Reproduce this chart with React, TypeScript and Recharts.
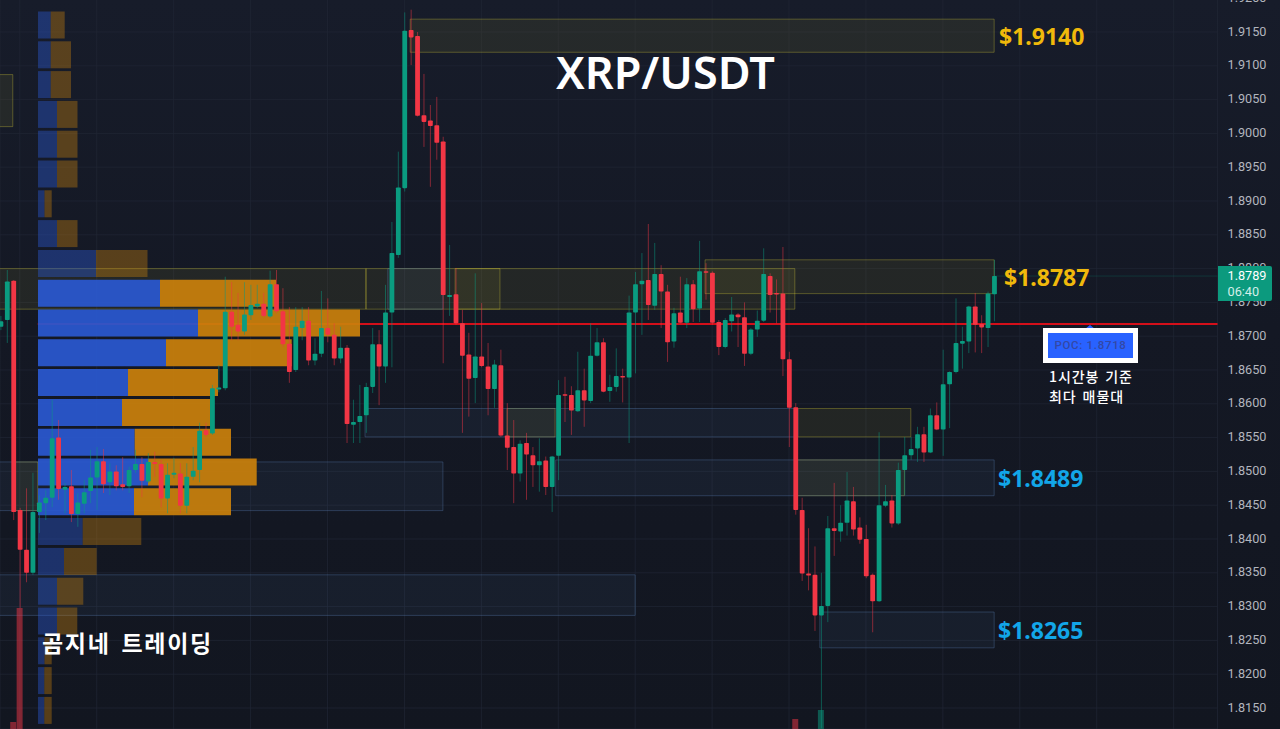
import React from "react";
import { Bar, BarChart, CartesianGrid, Cell, ComposedChart, ReferenceArea, ReferenceLine, XAxis, YAxis } from "recharts";

const opens = [1.8714,1.8724,1.8782,1.8443,1.8384,1.8350,1.8440,1.8453,1.8461,1.8550,
1.8473,1.8478,1.8437,1.8452,1.8471,1.8491,1.8515,1.8484,1.8500,1.8481,
1.8478,1.8502,1.8511,1.8485,1.8514,1.8511,1.8460,1.8495,1.8497,1.8449,
1.8492,1.8502,1.8561,1.8556,1.8621,1.8623,1.8736,1.8717,1.8707,1.8731,
1.8744,1.8748,1.8729,1.8777,1.8737,1.8689,1.8650,1.8712,1.8723,1.8664,
1.8674,1.8712,1.8702,1.8667,1.8683,1.8569,1.8573,1.8583,1.8625,1.8688,
1.8655,1.8735,1.8820,1.8919,1.9153,1.9144,1.9027,1.9019,1.9012,1.8988,
1.8758,1.8762,1.8719,1.8673,1.8638,1.8670,1.8655,1.8622,1.8657,1.8553,
1.8536,1.8497,1.8542,1.8524,1.8509,1.8516,1.8477,1.8523,1.8614,1.8613,
1.8589,1.8620,1.8604,1.8671,1.8691,1.8619,1.8625,1.8641,1.8639,1.8735,
1.8777,1.8783,1.8745,1.8792,1.8766,1.8692,1.8735,1.8720,1.8777,1.8741,
1.8796,1.8794,1.8721,1.8684,1.8722,1.8732,1.8728,1.8674,1.8710,1.8723,
1.8789,1.8764,1.8763,1.8666,1.8595,1.8443,1.8349,1.8347,1.8287,1.8301,
1.8416,1.8411,1.8424,1.8456,1.8417,1.8400,1.8347,1.8308,1.8449,1.8457,
1.8423,1.8502,1.8524,1.8534,1.8555,1.8528,1.8583,1.8562,1.8629,1.8647,
1.8689,1.8692,1.8744,1.8718,1.8712,1.8762];

const closes = [1.8722,1.8781,1.8440,1.8384,1.8350,1.8440,1.8454,1.8461,1.8549,1.8474,
1.8477,1.8437,1.8454,1.8469,1.8491,1.8515,1.8481,1.8500,1.8478,1.8477,
1.8502,1.8511,1.8486,1.8514,1.8511,1.8460,1.8495,1.8498,1.8449,1.8492,
1.8501,1.8560,1.8554,1.8623,1.8624,1.8736,1.8714,1.8707,1.8732,1.8746,
1.8748,1.8730,1.8777,1.8737,1.8688,1.8647,1.8714,1.8723,1.8664,1.8674,
1.8712,1.8702,1.8667,1.8683,1.8570,1.8573,1.8582,1.8625,1.8688,1.8655,
1.8735,1.8823,1.8920,1.9152,1.9142,1.9026,1.9017,1.9011,1.8986,1.8761,
1.8761,1.8719,1.8671,1.8637,1.8670,1.8656,1.8622,1.8658,1.8553,1.8535,
1.8497,1.8541,1.8525,1.8509,1.8515,1.8477,1.8522,1.8613,1.8612,1.8590,
1.8620,1.8605,1.8671,1.8691,1.8618,1.8625,1.8641,1.8639,1.8735,1.8777,
1.8782,1.8746,1.8792,1.8766,1.8691,1.8734,1.8720,1.8777,1.8740,1.8796,
1.8794,1.8720,1.8684,1.8724,1.8732,1.8728,1.8674,1.8710,1.8723,1.8792,
1.8761,1.8762,1.8666,1.8594,1.8443,1.8349,1.8346,1.8287,1.8301,1.8416,
1.8412,1.8424,1.8457,1.8414,1.8399,1.8345,1.8308,1.8450,1.8456,1.8423,
1.8502,1.8524,1.8533,1.8555,1.8528,1.8583,1.8562,1.8629,1.8647,1.8690,
1.8693,1.8744,1.8717,1.8713,1.8763,1.8789];

const highs = [1.8730,1.8798,1.8783,1.8446,1.8475,1.8498,1.8465,1.8472,1.8606,1.8576,
1.8483,1.8502,1.8468,1.8487,1.8532,1.8536,1.8533,1.8512,1.8509,1.8521,
1.8507,1.8532,1.8521,1.8527,1.8529,1.8517,1.8512,1.8520,1.8512,1.8512,
1.8536,1.8572,1.8572,1.8628,1.8657,1.8788,1.8780,1.8764,1.8780,1.8776,
1.8776,1.8764,1.8797,1.8798,1.8771,1.8743,1.8743,1.8743,1.8743,1.8697,
1.8767,1.8756,1.8719,1.8714,1.8687,1.8606,1.8628,1.8631,1.8712,1.8709,
1.8776,1.8869,1.8973,1.9179,1.9183,1.9150,1.9088,1.9042,1.9054,1.8995,
1.8835,1.8801,1.8739,1.8705,1.8793,1.8749,1.8690,1.8665,1.8680,1.8601,
1.8576,1.8546,1.8557,1.8536,1.8549,1.8522,1.8523,1.8635,1.8640,1.8626,
1.8677,1.8652,1.8719,1.8712,1.8697,1.8643,1.8682,1.8652,1.8760,1.8795,
1.8823,1.8866,1.8838,1.8805,1.8776,1.8742,1.8788,1.8786,1.8783,1.8841,
1.8808,1.8796,1.8724,1.8727,1.8758,1.8734,1.8750,1.8712,1.8738,1.8830,
1.8793,1.8784,1.8832,1.8677,1.8601,1.8461,1.8416,1.8389,1.8350,1.8434,
1.8483,1.8450,1.8499,1.8477,1.8432,1.8421,1.8349,1.8558,1.8480,1.8465,
1.8513,1.8551,1.8551,1.8566,1.8566,1.8593,1.8602,1.8680,1.8648,1.8756,
1.8714,1.8745,1.8764,1.8731,1.8766,1.8813];

const lows = [1.8709,1.8690,1.8428,1.8298,1.8336,1.8347,1.8409,1.8428,1.8447,1.8458,
1.8438,1.8425,1.8418,1.8438,1.8453,1.8443,1.8468,1.8465,1.8472,1.8472,
1.8468,1.8498,1.8462,1.8483,1.8492,1.8447,1.8438,1.8490,1.8438,1.8438,
1.8487,1.8484,1.8551,1.8554,1.8617,1.8620,1.8694,1.8694,1.8702,1.8724,
1.8742,1.8727,1.8727,1.8734,1.8684,1.8631,1.8647,1.8694,1.8657,1.8657,
1.8669,1.8691,1.8657,1.8660,1.8542,1.8542,1.8542,1.8557,1.8616,1.8598,
1.8631,1.8654,1.8816,1.8914,1.9101,1.9025,1.8980,1.8921,1.8961,1.8660,
1.8730,1.8717,1.8557,1.8581,1.8601,1.8654,1.8583,1.8594,1.8551,1.8502,
1.8453,1.8485,1.8458,1.8477,1.8470,1.8465,1.8440,1.8487,1.8573,1.8554,
1.8588,1.8566,1.8601,1.8670,1.8617,1.8603,1.8618,1.8602,1.8542,1.8645,
1.8702,1.8724,1.8739,1.8712,1.8662,1.8683,1.8719,1.8712,1.8721,1.8721,
1.8754,1.8717,1.8672,1.8682,1.8707,1.8684,1.8656,1.8672,1.8699,1.8721,
1.8735,1.8719,1.8641,1.8536,1.8436,1.8338,1.8324,1.8264,1.8120,1.8277,
1.8375,1.8396,1.8405,1.8405,1.8393,1.8342,1.8262,1.8307,1.8447,1.8417,
1.8421,1.8465,1.8517,1.8514,1.8514,1.8527,1.8561,1.8523,1.8564,1.8645,
1.8652,1.8675,1.8676,1.8675,1.8684,1.8722];

// sparse volume histogram visible at the bottom edge (candle index -> volume)
const volumeIndexes = [2, 3, 124, 128];
const volumeValues = [7, 121, 10, 19];

const priceTicks = [1.92,1.915,1.91,1.905,1.9,1.895,1.89,1.885,1.88,1.875,1.87,1.865,1.86,1.855,1.85,1.845,1.84,1.835,1.83,1.825,1.82,1.815];
const timeTicks = [3,15,27,39,51,63,75,87,99,111,123,135,147,159,171,183];

// volume profile rows, top to bottom
const profileLevels = [1.9160,1.9116,1.9072,1.9028,1.8984,1.8940,1.8896,1.8852,1.8808,1.8764,1.8720,1.8675,1.8631,1.8587,1.8543,1.8499,1.8455,1.8411,1.8367,1.8323,1.8279,1.8234,1.8190,1.8146];
const profileBuy = [12.7,12.7,12.7,19,19,19,6.5,19,58,122,160,128,90,84,96.7,110,96,44.7,26,19,19,6.5,6.3,6.3];
const profileSell = [14,20.3,20.3,20.5,20.5,20.5,7.2,20.5,51.5,116,162,125.7,90,90,96.3,108.7,97,58.6,32.7,26.3,20.3,7.2,7.4,7.4];
const valueAreaFrom = 9;
const valueAreaTo = 16;

type Zone = { a: number; b: number; top: number; bottom: number };
const yellowZones: Zone[] = [
  { a: 63.9, b: 155, top: 1.9169, bottom: 1.9120 },
  { a: -2, b: 57, top: 1.88, bottom: 1.874 },
  { a: 57, b: 77.9, top: 1.88, bottom: 1.874 },
  { a: 70.9, b: 123.9, top: 1.88, bottom: 1.874 },
  { a: 109.9, b: 155, top: 1.8813, bottom: 1.8763 },
  { a: -2, b: 1.9, top: 1.9087, bottom: 1.901 },
  { a: 79, b: 86.5, top: 1.8593, bottom: 1.8551 },
  { a: 124.2, b: 142, top: 1.8593, bottom: 1.8551 },
  { a: 124.2, b: 141, top: 1.8517, bottom: 1.8464 },
  { a: 2.1, b: 5.8, top: 1.8514, bottom: 1.8442 },
];
const blueZones: Zone[] = [
  { a: 60.4, b: 69, top: 1.88, bottom: 1.874 },
  { a: 56.85, b: 124.4, top: 1.8593, bottom: 1.8551 },
  { a: 86.6, b: 155, top: 1.8517, bottom: 1.8464 },
  { a: -2, b: 69, top: 1.8514, bottom: 1.8442 },
  { a: -2, b: 99, top: 1.8347, bottom: 1.8287 },
  { a: 127.8, b: 155, top: 1.8292, bottom: 1.8239 },
];

const pocPrice = 1.8718;
const lastPrice = 1.8789;

const candles = opens.map((open, i) => ({
  i,
  open,
  close: closes[i],
  high: highs[i],
  low: lows[i],
  range: [lows[i], highs[i]],
  volume: volumeIndexes.includes(i) ? volumeValues[volumeIndexes.indexOf(i)] : 0,
}));
const profile = profileLevels.map((level, i) => ({ level, buy: profileBuy[i], sell: profileSell[i] }));

const W = 1280;
const H = 739;
const AXIS_W = 62.5;
const xDomain: [number, number] = [-0.0936, 189.84];
const yDomain: [number, number] = [1.811893, 1.921213];
const UP = "#0a9c80";
const DOWN = "#f23645";
const YELLOW = "#ffeb3b";
const BLUE = "#5f86bd";

function Candle(props: any) {
  const { x, y, width, height, payload } = props;
  const cx = x + width / 2;
  const top = Math.min(y, y + height);
  const k = Math.abs(height) / (payload.high - payload.low);
  const yOf = (p: number) => top + (payload.high - p) * k;
  const up = payload.close >= payload.open;
  const color = up ? UP : DOWN;
  const bodyTop = yOf(Math.max(payload.open, payload.close));
  const bodyH = Math.max(1.5, Math.abs(payload.close - payload.open) * k);
  return (
    <g>
      <line x1={cx} x2={cx} y1={top} y2={top + Math.abs(height)} stroke={color} strokeOpacity={0.5} strokeWidth={1} />
      <rect x={cx - 2.4} y={bodyTop} width={4.8} height={bodyH} rx={0.8} fill={color} />
    </g>
  );
}

const label = (left: number, centerY: number, text: string, color: string, size: number, extra: React.CSSProperties = {}) => (
  <div
    style={{
      position: "absolute",
      left,
      top: centerY - size,
      height: size * 2,
      lineHeight: `${size * 2}px`,
      color,
      fontSize: size,
      fontFamily: "'Noto Sans', 'Noto Sans CJK KR', sans-serif",
      fontWeight: 700,
      whiteSpace: "nowrap",
      ...extra,
    }}
  >
    {text}
  </div>
);

const layer: React.CSSProperties = { position: "absolute", left: 0, top: -10 };

export default function App() {
  return (
    <div
      style={{
        position: "fixed",
        left: 0,
        top: 0,
        width: 1280,
        height: 729,
        overflow: "hidden",
        background: "linear-gradient(180deg, #171c2a 0%, #141824 45%, #121620 100%)",
      }}
    >
      {/* grid, zones and the point-of-control line lie under the volume profile */}
      <div style={layer}>
        <ComposedChart width={W} height={H} data={candles} margin={{ top: 0, right: AXIS_W, bottom: 0, left: 0 }}>
          <CartesianGrid stroke="#202634" strokeOpacity={0.75} strokeWidth={1} />
          <XAxis dataKey="i" type="number" domain={xDomain} ticks={timeTicks} hide allowDataOverflow />
          <YAxis type="number" domain={yDomain} ticks={priceTicks} hide allowDataOverflow />
          {yellowZones.map((z, k) => (
            <ReferenceArea key={`y${k}`} x1={z.a} x2={z.b} y1={z.top} y2={z.bottom} fill={YELLOW} fillOpacity={0.065} stroke={YELLOW} strokeOpacity={0.27} strokeWidth={1} ifOverflow="visible" />
          ))}
          {blueZones.map((z, k) => (
            <ReferenceArea key={`b${k}`} x1={z.a} x2={z.b} y1={z.top} y2={z.bottom} fill={BLUE} fillOpacity={0.075} stroke={BLUE} strokeOpacity={0.33} strokeWidth={1} ifOverflow="visible" />
          ))}
          <ReferenceLine segment={[{ x: 5.8, y: pocPrice }, { x: 189.84, y: pocPrice }]} stroke="#d40f1a" strokeWidth={2} ifOverflow="visible" />
          <ReferenceLine segment={[{ x: 155, y: lastPrice }, { x: 189.84, y: lastPrice }]} stroke={UP} strokeOpacity={0.22} strokeWidth={1} ifOverflow="visible" />
        </ComposedChart>
      </div>

      {/* volume profile */}
      <div style={{ position: "absolute", left: 0, top: 0 }}>
        <BarChart width={W} height={729} data={profile} layout="vertical" barSize={27} margin={{ top: 10.5, right: 920, bottom: 3.3, left: 38 }}>
          <XAxis type="number" domain={[0, 322]} hide allowDataOverflow />
          <YAxis type="category" dataKey="level" hide />
          <Bar dataKey="buy" stackId="p" isAnimationActive={false}>
            {profile.map((_, i) => (
              <Cell key={i} fill="#2a58d0" fillOpacity={i >= valueAreaFrom && i <= valueAreaTo ? 0.93 : 0.42} />
            ))}
          </Bar>
          <Bar dataKey="sell" stackId="p" isAnimationActive={false}>
            {profile.map((_, i) => (
              <Cell key={i} fill="#c9800c" fillOpacity={i >= valueAreaFrom && i <= valueAreaTo ? 0.93 : 0.38} />
            ))}
          </Bar>
        </BarChart>
      </div>

      {/* candles, volume histogram and the price axis */}
      <div style={layer}>
        <ComposedChart width={W} height={H} data={candles} margin={{ top: 0, right: 0, bottom: 0, left: 0 }}>
          <XAxis dataKey="i" type="number" domain={xDomain} hide allowDataOverflow />
          <XAxis xAxisId="vol" dataKey="i" type="number" domain={xDomain} hide allowDataOverflow />
          <YAxis
            orientation="right"
            width={AXIS_W}
            type="number"
            domain={yDomain}
            ticks={priceTicks}
            interval={0}
            allowDataOverflow
            axisLine={false}
            tickLine={false}
            tickSize={0}
            tickMargin={10}
            tickFormatter={(v: number) => v.toFixed(4)}
            tick={{ fill: "#b2b5be", fontSize: 12.7, fontFamily: "Roboto, sans-serif", textAnchor: "start", dy: -1 }}
          />
          <YAxis yAxisId="vol" type="number" domain={[0, H]} hide />
          <Bar xAxisId="vol" yAxisId="vol" dataKey="volume" barSize={6} isAnimationActive={false}>
            {candles.map((c) => (
              <Cell key={c.i} fill={c.close >= c.open ? UP : DOWN} fillOpacity={0.5} />
            ))}
          </Bar>
          <Bar dataKey="range" barSize={5} shape={Candle} isAnimationActive={false} />
        </ComposedChart>
      </div>

      {/* annotations */}
      {label(556, 72, "XRP/USDT", "#ffffff", 45, { fontWeight: 600 })}
      {label(999, 36, "$1.9140", "#f0b90b", 23)}
      {label(1004, 277, "$1.8787", "#f0b90b", 23)}
      {label(998, 478, "$1.8489", "#12a6e8", 23)}
      {label(998, 630, "$1.8265", "#12a6e8", 23)}
      {label(42, 642, "곰지네 트레이딩", "#ffffff", 23, { fontFamily: "'Noto Sans CJK KR', sans-serif", fontWeight: 700, letterSpacing: 1.7, wordSpacing: 4 })}
      <div style={{ position: "absolute", left: 1085, top: 325, width: 0, height: 0, borderLeft: "5px solid transparent", borderRight: "5px solid transparent", borderBottom: "4px solid #2962ff" }} />
      <div
        style={{
          position: "absolute",
          left: 1043,
          top: 328,
          width: 85,
          height: 25,
          border: "5px solid #ffffff",
          background: "#2962ff",
          color: "#3348a5",
          fontSize: 11.5,
          fontWeight: 500,
          lineHeight: "25px",
          textAlign: "center",
          fontFamily: "Roboto, sans-serif",
          letterSpacing: 0.7,
        }}
      >
        POC: 1.8718
      </div>
      {label(1049, 376, "1시간봉 기준", "#ffffff", 14, { fontFamily: "'Noto Sans CJK KR', sans-serif", fontWeight: 500, letterSpacing: 0.9, wordSpacing: 2 })}
      {label(1049, 396, "최다 매물대", "#ffffff", 14, { fontFamily: "'Noto Sans CJK KR', sans-serif", fontWeight: 500, letterSpacing: 0.9, wordSpacing: 2 })}
      <div
        style={{
          position: "absolute",
          left: 1218,
          top: 266,
          width: 54,
          height: 35,
          background: "#0c9a7e",
          borderRadius: "0 2px 2px 0",
          color: "#ffffff",
          fontFamily: "Roboto, sans-serif",
          fontSize: 12.7,
          lineHeight: "15.5px",
          paddingTop: 2,
          boxSizing: "border-box",
          paddingLeft: 9.5,
        }}
      >
        1.8789
        <br />
        <span style={{ color: "#d5efe9" }}>06:40</span>
      </div>
    </div>
  );
}
